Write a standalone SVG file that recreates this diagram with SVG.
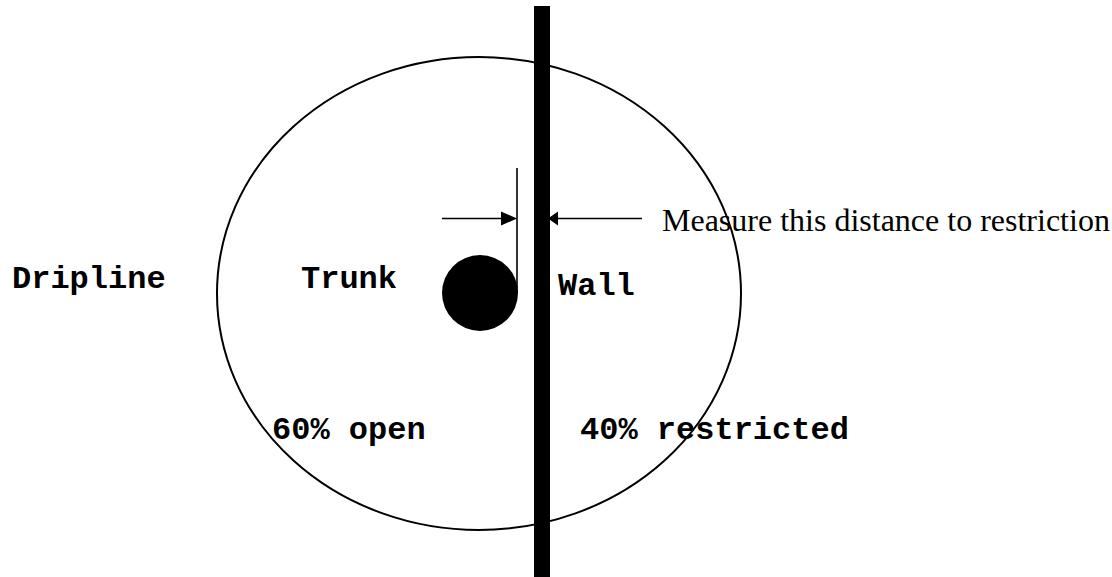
<svg xmlns="http://www.w3.org/2000/svg" width="1112" height="577" viewBox="0 0 1112 577">
<style>
.lbl{font-family:"Liberation Mono","Courier New",monospace;font-weight:bold;font-size:32px;fill:#000}
.note{font-family:"Liberation Serif","Times New Roman",serif;font-size:32px;fill:#000}
.ln{stroke:#000;stroke-width:1.6;fill:none}
</style>
<rect width="1112" height="577" fill="#fff"/>
<g id="dripline">
<ellipse cx="479" cy="293.5" rx="262" ry="236.5" fill="none" stroke="#000" stroke-width="2"/>
<text class="lbl" x="12" y="288">Dripline</text>
</g>
<g id="trunk">
<circle cx="480" cy="293" r="38" fill="#000"/>
<text class="lbl" x="301" y="288">Trunk</text>
</g>
<g id="wall">
<rect x="534" y="6" width="16" height="571" fill="#000"/>
<text class="lbl" x="558" y="295">Wall</text>
</g>
<g id="labels">
<text class="lbl" x="272" y="439">60% open</text>
<text class="lbl" x="580" y="439">40% restricted</text>
<text class="note" x="662" y="231">Measure this distance to restriction</text>
</g>
<g id="connectors">
<line class="ln" x1="517" y1="168" x2="517" y2="292"/>
<line class="ln" x1="442" y1="218.5" x2="503" y2="218.5"/>
<polygon points="517,218.5 501,211.5 501,225.5" fill="#000"/>
<line class="ln" x1="556" y1="218.5" x2="642" y2="218.5"/>
<polygon points="548,218.5 558,211.5 558,225.5" fill="#000"/>
</g>
</svg>
